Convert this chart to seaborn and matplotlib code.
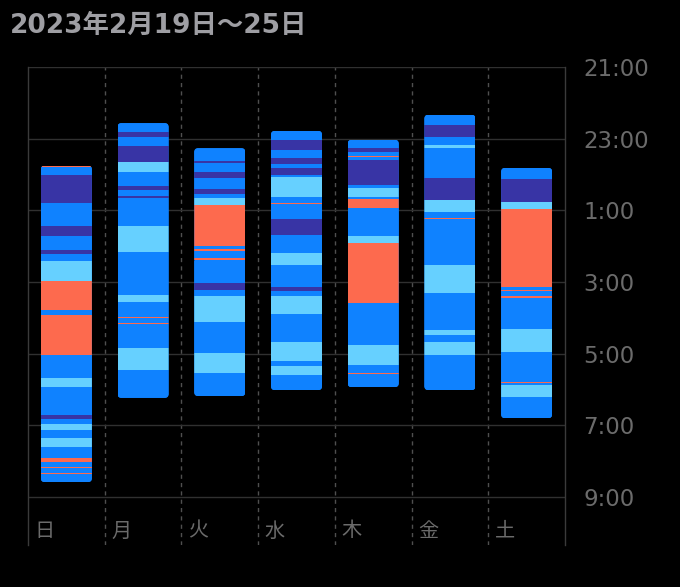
import matplotlib
matplotlib.use("Agg")
import matplotlib.pyplot as plt
from matplotlib.patches import FancyBboxPatch
import seaborn as sns
import pandas as pd

# ---------------- data ----------------
days = ["日", "月", "火", "水", "木", "金", "土"]
y_tick_labels = ["21:00", "23:00", "1:00", "3:00", "5:00", "7:00", "9:00"]
title = "2023年2月19日〜25日"

# stage codes: W = awake, R = REM, C = core, D = deep
sun_times = ["23:45", "23:48", "00:01", "00:48", "01:26", "01:43", "02:06", "02:13", "02:25",
             "02:58", "03:47", "03:55", "05:02", "05:40", "05:55", "06:43", "06:49", "06:58",
             "07:07", "07:21", "07:37", "07:54", "08:02", "08:10", "08:12", "08:19", "08:21", "08:35"]
sun_stages = ["W", "C", "D", "C", "D", "C", "D", "C", "R", "W", "C", "W", "C", "R", "C", "D",
              "C", "R", "C", "R", "C", "W", "C", "W", "C", "W", "C"]

mon_times = ["22:34", "22:48", "22:58", "23:13", "23:39", "23:55", "00:20", "00:26", "00:36",
             "00:39", "01:27", "02:09", "03:21", "03:33", "03:58", "04:00", "04:08", "04:10",
             "04:50", "05:27", "06:14"]
mon_stages = ["C", "D", "C", "D", "R", "C", "D", "C", "D", "C", "R", "C", "R", "C", "W", "C",
              "W", "C", "R", "C"]

tue_times = ["23:16", "23:37", "23:40", "23:55", "00:06", "00:25", "00:32", "00:40", "00:51",
             "02:00", "02:05", "02:08", "02:20", "02:24", "03:01", "03:13", "03:24", "04:07",
             "04:59", "05:33", "06:11"]
tue_stages = ["C", "D", "C", "D", "C", "D", "C", "R", "W", "C", "W", "C", "W", "C", "D", "C",
              "R", "C", "R", "C"]

wed_times = ["22:47", "23:02", "23:19", "23:33", "23:43", "23:49", "00:01", "00:05", "00:12",
             "00:13", "00:37", "00:48", "00:50", "01:15", "01:41", "02:12", "02:32", "03:08",
             "03:15", "03:24", "03:54", "04:41", "05:12", "05:21", "05:36", "06:01"]
wed_stages = ["C", "D", "C", "D", "C", "D", "C", "R", "C", "R", "C", "W", "C", "D", "C", "R",
              "C", "D", "C", "R", "C", "R", "C", "R", "C"]

thu_times = ["23:02", "23:16", "23:22", "23:29", "23:31", "23:36", "00:18", "00:23", "00:38",
             "00:41", "00:56", "01:43", "01:55", "03:35", "04:46", "05:19", "05:32", "05:34",
             "05:56"]
thu_stages = ["C", "D", "C", "W", "C", "D", "C", "R", "C", "W", "C", "R", "W", "C", "R", "C",
              "W", "C"]

fri_times = ["22:20", "22:37", "22:57", "23:11", "23:16", "00:06", "00:43", "01:03", "01:13",
             "01:15", "02:32", "03:19", "04:20", "04:29", "04:41", "05:02", "06:01"]
fri_stages = ["C", "D", "C", "R", "C", "D", "R", "C", "W", "C", "R", "C", "R", "C", "R", "C"]

sat_times = ["23:49", "00:08", "00:46", "00:58", "03:08", "03:13", "03:15", "03:24", "03:26",
             "04:18", "04:57", "05:47", "05:49", "05:52", "06:12", "06:48"]
sat_stages = ["C", "D", "R", "W", "C", "W", "C", "W", "C", "R", "C", "W", "C", "R", "C"]

all_times = [sun_times, mon_times, tue_times, wed_times, thu_times, fri_times, sat_times]
all_stages = [sun_stages, mon_stages, tue_stages, wed_stages, thu_stages, fri_stages, sat_stages]

stage_colors = {"W": "#FD6A4E", "R": "#66D0FF", "C": "#0F82FF", "D": "#3834A5"}


def to_h(t):
    h, m = map(int, t.split(":"))
    v = h + m / 60
    if v < 12:
        v += 24
    return v - 21


rows = []
for day, times, stages in zip(days, all_times, all_stages):
    for i, s in enumerate(stages):
        a, b = to_h(times[i]), to_h(times[i + 1])
        rows.append(dict(day=day, start=a, dur=b - a, stage=s))
df = pd.DataFrame(rows)

# ---------------- figure ----------------
sns.set_style("dark", {"axes.facecolor": "black", "figure.facecolor": "black"})
plt.rcParams["font.family"] = ["DejaVu Sans", "Noto Sans CJK JP"]

W, H = 680, 587
fig = plt.figure(figsize=(W / 100, H / 100), dpi=100, facecolor="black")
left, right, top, bottom = 28, 565, 67, 545
ax = fig.add_axes([left / W, 1 - bottom / H, (right - left) / W, (bottom - top) / H])
ax.set_facecolor("black")

bar_w = 0.665
px_per_x = (right - left) / 7
px_per_y = (497 - 67) / 12
ymax = 12 + (bottom - 497) / px_per_y

for day in days:
    sub = df[df["day"] == day]
    n0 = len(ax.patches)
    # base bar
    s0 = sub["start"].min()
    s1 = (sub["start"] + sub["dur"]).max()
    sns.barplot(x=[day], y=[s1 - s0], order=days, bottom=s0, color=stage_colors["C"],
                width=bar_w, errorbar=None, saturation=1, linewidth=0, edgecolor="none", ax=ax)
    for _, r in sub.iterrows():
        sns.barplot(x=[day], y=[r["dur"]], order=days, bottom=r["start"],
                    color=stage_colors[r["stage"]], width=bar_w, errorbar=None,
                    saturation=1, linewidth=0, edgecolor="none", ax=ax)
    i = days.index(day)
    rx = 4 / px_per_x
    clip = FancyBboxPatch((i - bar_w / 2, s0), bar_w, s1 - s0,
                          boxstyle=f"round,pad=0,rounding_size={rx}",
                          mutation_aspect=px_per_x / px_per_y,
                          transform=ax.transData, facecolor="none", edgecolor="none")
    for p in ax.patches[n0:]:
        p.set_clip_path(clip)

ax.set_xlim(-0.5, 6.5)
ax.set_ylim(ymax, 0)
ax.set_xticks([])
ax.set_xlabel("")
ax.set_ylabel("")

ax.set_yticks(range(0, 13, 2))
ax.set_yticklabels(y_tick_labels)
ax.yaxis.tick_right()
ax.tick_params(axis="y", length=0, pad=13, labelsize=16.5, labelcolor="#6b6b6b")
ax.yaxis.grid(True, color="#303030", lw=1)
ax.xaxis.grid(False)
ax.set_axisbelow(True)

for i in range(6):
    ax.axvline(i + 0.5, color="#4f4f4f", lw=1, ls=(0, (3, 3)), zorder=0)

for side in ["left", "right"]:
    ax.spines[side].set_visible(True)
    ax.spines[side].set_color("#3a3a3a")
    ax.spines[side].set_linewidth(1)
for side in ["top", "bottom"]:
    ax.spines[side].set_visible(False)

for i, d in enumerate(days):
    ax.text(i - 0.5 + 0.085, 12 + (531 - 497) / px_per_y, d, ha="left", va="center",
            fontsize=14.5, color="#6b6b6b", family=["Noto Sans CJK JP", "DejaVu Sans"])

fig.text(10 / W, 1 - 26 / H, title, ha="left", va="center", fontsize=19,
         fontweight="bold", color="#9e9ea3", family=["DejaVu Sans", "Noto Sans CJK JP"])

fig.savefig("out.png", dpi=100, facecolor="black")
